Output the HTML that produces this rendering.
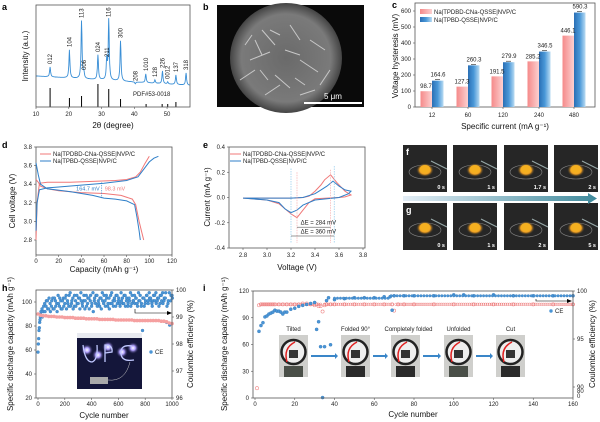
<!DOCTYPE html>
<html><head><meta charset="utf-8">
<style>
html,body{margin:0;padding:0;background:#fff;}
svg{display:block;font-family:"Liberation Sans",Arial,sans-serif;}
.t{font-size:6px;fill:#222;}
.ax{font-size:8px;fill:#111;}
.pl{font-size:9px;font-weight:bold;fill:#000;}
</style></head>
<body>
<svg id="fig" width="600" height="422" viewBox="0 0 600 422" xmlns="http://www.w3.org/2000/svg">
<defs>
<linearGradient id="gRed" x1="0" x2="1"><stop offset="0" stop-color="#f58a8a"/><stop offset="1" stop-color="#fcd0d0"/></linearGradient>
<linearGradient id="gBlue" x1="0" x2="1"><stop offset="0" stop-color="#2a6fb5"/><stop offset="0.5" stop-color="#4a98d8"/><stop offset="1" stop-color="#b9dbf3"/></linearGradient>
<linearGradient id="gArrow" x1="0" x2="1"><stop offset="0" stop-color="#e4eef6"/><stop offset="1" stop-color="#3f8a9c"/></linearGradient>
<radialGradient id="gSem" cx="0.5" cy="0.5" r="0.5"><stop offset="0" stop-color="#6a6a6a"/><stop offset="0.8" stop-color="#7a7a7a"/><stop offset="1" stop-color="#444"/></radialGradient>
<radialGradient id="gFlame" cx="0.5" cy="0.5" r="0.5"><stop offset="0" stop-color="#ffd04a"/><stop offset="0.6" stop-color="#f0a020"/><stop offset="1" stop-color="#2a2a2a" stop-opacity="0"/></radialGradient>
<radialGradient id="gLed" cx="0.5" cy="0.5" r="0.5"><stop offset="0" stop-color="#ffffff"/><stop offset="0.4" stop-color="#b0a0ff"/><stop offset="1" stop-color="#1a1840" stop-opacity="0"/></radialGradient>
</defs>
<g id="root"></g>
</svg>
<script>
// ===== panel a data (XRD) =====
const xrdPeakPos = [14.3,20.2,23.9,24.6,28.9,31.6,32.2,35.8,40.3,43.5,46.3,48.6,50.2,52.7,55.8];
const xrdPeakTop = [67,50,21,73,55,60,20,41,84,74,80,71,82,75,73];
const xrdPeakLabels = ["012","104","113","006","024","211","116","300","208","1010","128","226","0012","137","318"];
const refStickPos = [14.3,20.2,23.9,28.9,32.2,35.8,43.6,48.5,50.2,52.7];
const refStickTop = [88,98,96,84,89,99,104,104,104,102];
const xrdTicks = [10,20,30,40,50];
// ===== panel c data =====
const hystCats = ["12","60","120","240","480"];
const hystRed = [98.7,127.3,191.5,285.2,446.1];
const hystBlue = [164.6,260.3,279.9,346.5,590.3];
const hystTicks = [0,100,200,300,400,500,600];
// ===== panel d data =====
const dRedChgCap = [0,1,3,10,30,50,70,80,88,92,96,100];
const dRedChgV = [2.8,3.2,3.41,3.42,3.42,3.43,3.44,3.45,3.48,3.53,3.62,3.7];
const dRedDisCap = [0,2,4,10,20,40,60,75,85,88,91,93,95];
const dRedDisV = [3.45,3.42,3.38,3.35,3.33,3.31,3.3,3.28,3.24,3.18,3.0,2.9,2.8];
const dBlueChgCap = [0,1,3,10,20,40,60,80,90,95,100,104,108];
const dBlueChgV = [2.9,3.2,3.34,3.36,3.37,3.39,3.41,3.44,3.48,3.56,3.64,3.68,3.7];
const dBlueDisCap = [0,2,4,10,30,50,60,70,80,87,89,91,92];
const dBlueDisV = [3.63,3.5,3.4,3.35,3.32,3.28,3.25,3.24,3.22,3.18,3.05,2.9,2.8];
const dTicksX = [0,20,40,60,80,100,120];
const dTicksY = [2.8,3.0,3.2,3.4,3.6,3.8];
// ===== panel e data =====
const eRedV = [2.8,3.0,3.2,3.3,3.35,3.4,3.45,3.48,3.53,3.58,3.65,3.7,3.65,3.6,3.5,3.4,3.35,3.3,3.25,3.2,3.1,3.0,2.8];
const eRedI = [-0.005,-0.005,-0.005,0.0,0.01,0.05,0.1,0.14,0.18,0.12,0.05,0.02,0.005,0.0,-0.005,-0.01,-0.04,-0.1,-0.16,-0.13,-0.05,-0.02,-0.005];
const eBlueV = [2.8,3.0,3.2,3.3,3.4,3.45,3.5,3.55,3.6,3.65,3.7,3.68,3.6,3.5,3.4,3.3,3.25,3.2,3.15,3.1,3.0,2.8];
const eBlueI = [-0.005,-0.005,-0.005,0.0,0.03,0.06,0.09,0.13,0.09,0.06,0.05,0.03,0.0,-0.01,-0.02,-0.06,-0.1,-0.12,-0.09,-0.04,-0.02,-0.005];
const eTicksX = [2.8,3.0,3.2,3.4,3.6,3.8];
const eTicksY = [-0.4,-0.2,0.0,0.2,0.4];
// ===== panel h data =====
const hCapCycles = [0,20,40,60,80,100,120,140,160,180,200,220,240,260,280,300,320,340,360,380,400,420,440,460,480,500,520,540,560,580,600,620,640,660,680,700,720,740,760,780,800,820,840,860,880,900,920,940,960,980,1000];
const hCap = [90,89,88.5,88.5,88,88,88,87.5,87.5,87.5,87,87,87,87,86.5,86.5,86.5,86.5,86,86,86,86,86,85.5,85.5,85.5,85.5,85.5,85.5,85,85,85,85,85,85,85,84.5,84.5,84.5,84.5,84.5,84.5,84.5,84.5,84.5,84.5,84,84,83.5,82.5,82];
const hCeCycles = [0,5,10,15,20,30,40,50,60,70,80,90,100,110,120,130,140,150,160,170,180,190,200,210,220,230,240,250,260,270,280,290,300,310,320,330,340,350,360,370,380,390,400,410,420,430,440,450,460,470,480,490,500,510,520,530,540,550,560,570,580,590,600,610,620,630,640,650,660,670,680,690,700,710,720,730,740,750,760,770,780,790,800,810,820,830,840,850,860,870,880,890,900,910,920,930,940,950,960,970,980,990,1000];
const hCe = [97.7,98.2,98.6,98.9,99.1,99.3,99.2,99.5,99.4,99.6,99.3,99.5,99.4,99.7,99.3,99.6,99.5,99.8,99.4,99.6,99.3,99.7,99.5,99.8,99.6,99.4,99.9,99.5,99.7,99.4,99.6,99.8,99.5,99.7,99.9,99.5,99.6,99.3,99.8,99.5,99.7,99.6,99.4,99.9,99.6,99.5,99.8,99.6,99.4,99.7,99.9,99.5,99.6,99.8,99.4,99.7,99.5,99.9,99.6,99.7,99.4,99.8,99.6,99.5,99.9,99.7,99.5,99.8,99.6,99.4,99.7,99.9,99.5,99.6,99.8,99.7,99.5,99.9,99.6,99.4,98.5,99.7,99.5,99.8,99.6,99.9,99.7,99.5,99.6,99.8,99.9,99.6,99.7,99.5,99.8,99.9,99.6,99.7,98.8,99.5,99.9,99.6,99.8];
const hCe2 = [98.0,98.5,98.8,99.0,99.2,99.0,99.4,99.2,99.6,99.3,99.7,99.2,99.6,99.3,99.7,99.4,99.2,99.5,99.7,99.3,99.6,99.4,99.7,99.3,99.5,99.8,99.4,99.6,99.3,99.8,99.4,99.5,99.7,99.3,99.6,99.4,99.8,99.6,99.4,99.7,99.3,99.8,99.5,99.2,99.7,99.8,99.4,99.5,99.7,99.3,99.6,99.8,99.4,99.7,99.5,99.3,99.8,99.5,99.4,99.6,99.8,99.5,99.7,99.4,99.6,99.5,99.8,99.4,99.7,99.5,99.6,99.4,99.8,99.6,99.5,99.7,99.4,99.6,99.8,99.5,99.7,99.4,99.6,99.8,99.5,99.7,99.6,99.4,99.8,99.6,99.5,99.7,99.4,99.8,99.6,99.5,99.7,99.9,99.4,99.6,98.7,99.8,99.7];
const hTicksX = [0,200,400,600,800,1000];
const hTicksY = [20,40,60,80,100];
const hTicksY2 = [96,97,98,99,100];
// ===== panel i data =====
const iCapCycles = [1,2,3,4,5,6,7,8,9,10,12,14,16,18,20,22,24,26,28,30,31,32,33,34,35,36,38,40,45,50,55,60,65,69,70,72,75,80,90,100,110,120,130,140,150,160];
const iCap = [11,104,105,105,105,105,105,105,105,105,105,105,105,105,105,105,106,106,105,104,105,103,103,97,104,105,105,105,105,105,105,105,105,105,98,105,105,105,105,105,105,105,105,105,105,105];
const iCeCycles = [2,3,4,5,6,7,8,9,10,11,12,13,14,15,16,18,20,22,24,26,28,30,31,32,33,34,35,36,37,38,40,45,50,55,60,65,68,69,70,75,80,90,100,105,110,120,130,140,150,160];
const iCe = [95.8,96.4,96.7,97.3,97.4,97.6,97.7,97.8,98.0,97.9,97.9,97.8,97.6,97.8,97.8,98.1,98.2,98.4,98.5,98.6,98.7,98.8,96.0,96.8,94.2,88.9,94.2,99.0,99.3,94.4,99.1,99.2,99.3,99.3,99.3,99.4,99.4,98.0,99.5,99.5,99.5,99.5,99.6,99.6,99.5,99.6,99.5,99.5,99.5,99.5];
const iTicksX = [0,20,40,60,80,100,120,140,160];
const iTicksY = [0,30,60,90,120];
const iPhotoLabels = ["Tilted","Folded 90°","Completely folded","Unfolded","Cut"];
const fgTimesF = ["0 s","1 s","1.7 s","2 s"];
const fgTimesG = ["0 s","1 s","2 s","5 s"];

const NS="http://www.w3.org/2000/svg";
const root=document.getElementById('root');
function mk(tag,attrs,parent){const e=document.createElementNS(NS,tag);for(const k in attrs)e.setAttribute(k,attrs[k]);(parent||root).appendChild(e);return e;}
function txt(s,x,y,cls,extra,parent){const e=mk('text',Object.assign({x:x,y:y,class:cls},extra||{}),parent);e.textContent=s;return e;}
function grp(){return mk('g',{});}
function lin(d0,d1,r0,r1){return v=>r0+(v-d0)*(r1-r0)/(d1-d0);}

// ---------- panel labels ----------
[["a",2,10],["b",203,10],["c",392,8],["d",2,148],["e",203,148],["h",2,291],["i",203,291]].forEach(p=>{
  const e=txt(p[0],p[1],p[2],'pl');
  
  
});

// ---------- panel a ----------
{
const g=grp();


const X=lin(10,57,36,190);
const base=x=>76+(x-10)*0.2;
let pts=[];
for(let x=10;x<=57;x+=0.1){
  let y=base(x);
  xrdPeakPos.forEach((p,i)=>{const h=base(p)-xrdPeakTop[i];const w=0.18;y-=h/(1+((x-p)/w)**2);});
  pts.push(X(x).toFixed(1)+','+y.toFixed(1));
}
const pl=mk('polyline',{points:pts.join(' '),fill:'none',stroke:'#3a8fd6','stroke-width':0.9},g);


xrdPeakPos.forEach((p,i)=>{
  const x=X(p)+2,y=xrdPeakTop[i]-3;
  const t=txt(xrdPeakLabels[i],x,y,'t',{transform:`rotate(-90 ${x} ${y})`,'font-size':'5.5'},g);
  
  
});
refStickPos.forEach((p,i)=>{
  const l=mk('line',{x1:X(p),x2:X(p),y1:107,y2:refStickTop[i],stroke:'#000','stroke-width':1},g);
  
  
});
txt('PDF#53-0018',133,96,'t',{},g);
mk('rect',{x:36,y:5,width:154,height:102,fill:'none',stroke:'#555','stroke-width':0.8},g);
xrdTicks.forEach(v=>{mk('line',{x1:X(v),x2:X(v),y1:107,y2:109,stroke:'#555','stroke-width':0.6},g);
  const t=txt(v,X(v),116,'t',{'text-anchor':'middle'},g);
  
  });
const xt=txt('2θ (degree)',113,128,'ax',{'text-anchor':'middle'},g);


const yt=txt('Intensity (a.u.)',28,56,'ax',{'text-anchor':'middle',transform:'rotate(-90 28 56)'},g);


}

// ---------- panel b (SEM) ----------
{
const g=grp();


mk('rect',{x:217,y:5,width:147,height:102,fill:'#0a0a0a'},g);
mk('ellipse',{cx:286,cy:58,rx:56,ry:55,fill:'url(#gSem)'},g);
const flakes=[[262,30,275,45],[290,25,300,40],[250,60,270,52],[300,60,318,72],[275,75,290,88],[310,40,325,50],[240,80,255,70],[285,50,300,55],[265,95,280,85],[320,85,330,70],[255,40,262,55],[300,95,315,90],[245,45,252,35],[280,35,270,30],[295,78,305,85],[260,70,268,80]];
flakes.forEach(f=>mk('line',{x1:f[0],y1:f[1],x2:f[2],y2:f[3],stroke:'#c8c8c8','stroke-width':1},g));
const sb=mk('rect',{x:304,y:102,width:58,height:2,fill:'#fff'},g);


const sl=txt('5 μm',324,99,'t',{style:'fill:#fff;font-size:8px'},g);


}

// ---------- panel c ----------
{
const g=grp();


const Y=lin(0,600,107,11);
const cx=[432,468,503,539,574];
mk('rect',{x:415,y:3,width:180,height:104,fill:'none',stroke:'#555','stroke-width':0.8},g);
hystTicks.forEach(v=>{mk('line',{x1:413,x2:415,y1:Y(v),y2:Y(v),stroke:'#555','stroke-width':0.6},g);
  const t=txt(v,411,Y(v)+2,'t',{'text-anchor':'end'},g);
  
  });
hystCats.forEach((c,i)=>{
  const r=mk('rect',{x:cx[i]-11.5,y:Y(hystRed[i]),width:11.5,height:107-Y(hystRed[i]),fill:'url(#gRed)'},g);
  
  
  const b=mk('rect',{x:cx[i],y:Y(hystBlue[i]),width:11.5,height:107-Y(hystBlue[i]),fill:'url(#gBlue)'},g);
  
  
  mk('line',{x1:cx[i]+3,x2:cx[i]+8,y1:Y(hystBlue[i])-1,y2:Y(hystBlue[i])-1,stroke:'#222','stroke-width':0.6},g);
  txt(hystRed[i],cx[i]-6,Y(hystRed[i])-3,'t',{'text-anchor':'middle','font-size':'4.5'},g);
  txt(hystBlue[i],cx[i]+6,Y(hystBlue[i])-4,'t',{'text-anchor':'middle','font-size':'4.5'},g);
  mk('line',{x1:cx[i],x2:cx[i],y1:107,y2:109,stroke:'#555','stroke-width':0.6},g);
  const t=txt(c,cx[i],117,'t',{'text-anchor':'middle'},g);
  
  
});
mk('rect',{x:420,y:9,width:12,height:5,fill:'url(#gRed)'},g);
mk('rect',{x:420,y:17,width:12,height:5,fill:'url(#gBlue)'},g);
const l1=txt('Na|TPDBD-CNa-QSSE|NVP/C',434,14,'t',{'font-size':'5.5'},g);


const l2=txt('Na|TPBD-QSSE|NVP/C',434,22,'t',{'font-size':'5.5'},g);


const xt=txt('Specific current  (mA g⁻¹)',505,129,'ax',{'text-anchor':'middle'},g);


const yt=txt('Voltage hysteresis (mV)',398,56,'ax',{'text-anchor':'middle',transform:'rotate(-90 398 56)'},g);


}

// ---------- panel d ----------
{
const g=grp();


const X=lin(0,120,36,172), Y=lin(2.8,3.8,240,147);
mk('rect',{x:36,y:147,width:136,height:108,fill:'none',stroke:'#555','stroke-width':0.8},g);
const curve=(cs,vs,col,name)=>{const p=mk('polyline',{points:cs.map((c,i)=>X(c).toFixed(1)+','+Y(vs[i]).toFixed(1)).join(' '),fill:'none',stroke:col,'stroke-width':1},g);
  
  };
curve(dRedChgCap,dRedChgV,'#f07878','red-charge-curve');
curve(dRedDisCap,dRedDisV,'#f07878','red-discharge-curve');
curve(dBlueChgCap,dBlueChgV,'#2f7fc8','blue-charge-curve');
curve(dBlueDisCap,dBlueDisV,'#2f7fc8','blue-discharge-curve');
mk('line',{x1:X(58),x2:X(58),y1:Y(3.42),y2:Y(3.25),stroke:'#2f7fc8','stroke-width':0.6,'stroke-dasharray':'1.5,1'},g);
txt('164.7 mV',X(58)-2,Y(3.33),'t',{'text-anchor':'end',style:'fill:#2f7fc8;font-size:5.5px'},g);
txt('98.3 mV',X(58)+3,Y(3.33),'t',{style:'fill:#f07878;font-size:5.5px'},g);
dTicksX.forEach(v=>{mk('line',{x1:X(v),x2:X(v),y1:255,y2:257,stroke:'#555','stroke-width':0.6},g);
  const t=txt(v,X(v),263,'t',{'text-anchor':'middle'},g);
  
  });
dTicksY.forEach(v=>{mk('line',{x1:34,x2:36,y1:Y(v),y2:Y(v),stroke:'#555','stroke-width':0.6},g);
  const t=txt(v.toFixed(1),32,Y(v)+2,'t',{'text-anchor':'end'},g);
  
  });
mk('line',{x1:40,x2:51,y1:154,y2:154,stroke:'#f07878','stroke-width':1},g);
mk('line',{x1:40,x2:51,y1:161,y2:161,stroke:'#2f7fc8','stroke-width':1},g);
const l1=txt('Na|TPDBD-CNa-QSSE|NVP/C',53,156,'t',{'font-size':'5.5'},g);


const l2=txt('Na|TPBD-QSSE|NVP/C',53,163,'t',{'font-size':'5.5'},g);


const xt=txt('Capacity (mAh g⁻¹)',104,272,'ax',{'text-anchor':'middle'},g);


const yt=txt('Cell voltage (V)',15,201,'ax',{'text-anchor':'middle',transform:'rotate(-90 15 201)'},g);


}

// ---------- panel e ----------
{
const g=grp();


const X=lin(2.8,3.8,243,363), Y=lin(-0.4,0.4,248,147);
mk('rect',{x:229,y:147,width:136,height:101,fill:'none',stroke:'#555','stroke-width':0.8},g);
const curve=(vs,is,col,name)=>{const p=mk('polyline',{points:vs.map((v,i)=>X(v).toFixed(1)+','+Y(is[i]).toFixed(1)).join(' '),fill:'none',stroke:col,'stroke-width':1},g);
  
  };
curve(eRedV,eRedI,'#f07878','red-cv-curve');
curve(eBlueV,eBlueI,'#2f7fc8','blue-cv-curve');
[[3.25,'#f5a0a0',0.2],[3.53,'#f5a0a0',0.22],[3.2,'#7fc0e8',0.23],[3.56,'#7fc0e8',0.25]].forEach(d=>mk('line',{x1:X(d[0]),x2:X(d[0]),y1:Y(d[2]),y2:Y(-0.36),stroke:d[1],'stroke-width':0.6,'stroke-dasharray':'1.5,1'},g));
mk('line',{x1:X(3.25),x2:X(3.53),y1:Y(-0.235),y2:Y(-0.235),stroke:'#333','stroke-width':0.5},g);
mk('line',{x1:X(3.2),x2:X(3.56),y1:Y(-0.305),y2:Y(-0.305),stroke:'#333','stroke-width':0.5},g);
txt('ΔE = 284 mV',X(3.28),Y(-0.215),'t',{'font-size':'5'},g);
txt('ΔE = 360 mV',X(3.28),Y(-0.285),'t',{'font-size':'5'},g);
eTicksX.forEach(v=>{mk('line',{x1:X(v),x2:X(v),y1:248,y2:250,stroke:'#555','stroke-width':0.6},g);
  const t=txt(v.toFixed(1),X(v),257,'t',{'text-anchor':'middle'},g);
  
  });
eTicksY.forEach(v=>{mk('line',{x1:227,x2:229,y1:Y(v),y2:Y(v),stroke:'#555','stroke-width':0.6},g);
  const t=txt(v.toFixed(1),225,Y(v)+2,'t',{'text-anchor':'end'},g);
  
  });
mk('line',{x1:230,x2:241,y1:154,y2:154,stroke:'#f07878','stroke-width':1},g);
mk('line',{x1:230,x2:241,y1:161,y2:161,stroke:'#2f7fc8','stroke-width':1},g);
const l1=txt('Na|TPDBD-CNa-QSSE|NVP/C',243,156,'t',{'font-size':'5.5'},g);


const l2=txt('Na|TPBD-QSSE|NVP/C',243,163,'t',{'font-size':'5.5'},g);


const xt=txt('Voltage (V)',297,270,'ax',{'text-anchor':'middle'},g);


const yt=txt('Current (mA g⁻¹)',210,197,'ax',{'text-anchor':'middle',transform:'rotate(-90 210 197)'},g);


}

// ---------- panels f,g (photos) ----------
{
const g=grp();


const xs=[403,453,504,554], w=44;
[[145,fgTimesF,'f'],[203,fgTimesG,'g']].forEach(row=>{
  xs.forEach((x,i)=>{
    const y=row[0];
    const r=mk('rect',{x:x,y:y,width:w,height:47,fill:'#262626'},g);
    
    
    mk('ellipse',{cx:x+22,cy:y+27,rx:16,ry:7,fill:'none',stroke:'#888','stroke-width':0.6},g);
    mk('ellipse',{cx:x+22,cy:y+25,rx:9,ry:7,fill:'url(#gFlame)'},g);
    mk('ellipse',{cx:x+22,cy:y+24,rx:5,ry:4,fill:'#f5b020'},g);
    mk('line',{x1:x+28,y1:y+16,x2:x+44,y2:y+24,stroke:'#9aa','stroke-width':1},g);
    txt(row[1][i],x+w-2,y+44,'t',{'text-anchor':'end',style:'fill:#fff;font-size:5.5px;font-weight:bold'},g);
  });
  const lab=txt(row[2],406,row[0]+10,'pl',{style:'fill:#fff'},g);
  
  
});
const ar=mk('polygon',{points:'403,196 588,196 588,193 597,198.5 588,204 588,201 403,201',fill:'url(#gArrow)'},g);


}

// ---------- panel h ----------
{
const g=grp();


const X=lin(0,1000,38,172), Y=lin(20,110,398,290), Y2=lin(96,100,398,290);
hCeCycles.forEach((c,i)=>{
  const p=mk('circle',{cx:X(c),cy:Y2(hCe[i]),r:1.5,fill:'#4a95d6',stroke:'#2a6fb0','stroke-width':0.3},g);
  
  
  const q=mk('circle',{cx:X(c+2.5),cy:Y2(hCe2[i]),r:1.5,fill:'#4a95d6',stroke:'#2a6fb0','stroke-width':0.3},g);
  
  
});
hCapCycles.forEach((c,i)=>{
  const p=mk('circle',{cx:X(c),cy:Y(hCap[i]),r:1.8,fill:'#f5a0a0'},g);
  
  
});
const ph=mk('rect',{x:77,y:333,width:65,height:56,fill:'#14163a'},g);


mk('rect',{x:77,y:333,width:65,height:5,fill:'#e8eaf0'},g);
[[87,350],[98,355],[108,347],[122,352],[133,348]].forEach(p=>mk('circle',{cx:p[0],cy:p[1],r:6,fill:'url(#gLed)'},g));
mk('path',{d:'M83 345 Q85 362 92 362 Q98 360 97 345 M105 362 L105 345 Q113 345 112 352 L105 353 M132 346 Q120 344 121 354 Q122 362 134 360',fill:'none',stroke:'#c0c8ff','stroke-width':1.3},g);
mk('rect',{x:90,y:377,width:18,height:7,fill:'#aaa'},g);
mk('path',{d:'M108 380 Q125 382 130 362',fill:'none',stroke:'#ccc','stroke-width':0.5},g);
mk('polyline',{points:'135,309 135,313 169,313',fill:'none',stroke:'#000','stroke-width':0.6},g);
mk('polygon',{points:'172,313 167,311 167,315',fill:'#000'},g);
mk('circle',{cx:151,cy:352,r:1.7,fill:'#4a95d6'},g);
const lg=txt('CE',155,354,'t',{'font-size':'5.5'},g);


mk('rect',{x:36,y:290,width:136,height:108,fill:'none',stroke:'#555','stroke-width':0.8},g);
hTicksX.forEach(v=>{mk('line',{x1:X(v),x2:X(v),y1:398,y2:400,stroke:'#555','stroke-width':0.6},g);
  const t=txt(v,X(v),406,'t',{'text-anchor':'middle'},g);
  
  });
hTicksY.forEach(v=>{mk('line',{x1:34,x2:36,y1:Y(v),y2:Y(v),stroke:'#555','stroke-width':0.6},g);
  const t=txt(v,32,Y(v)+2,'t',{'text-anchor':'end'},g);
  
  });
hTicksY2.forEach(v=>{mk('line',{x1:172,x2:174,y1:Y2(v),y2:Y2(v),stroke:'#555','stroke-width':0.6},g);
  const t=txt(v,176,Y2(v)+2,'t',{},g);
  
  });
const xt=txt('Cycle number',104,418,'ax',{'text-anchor':'middle'},g);


const yt=txt('Specific discharge capacity (mAh g⁻¹)',13,344,'ax',{'text-anchor':'middle','font-size':'7',transform:'rotate(-90 13 344)'},g);


const y2=txt('Coulombic efficiency (%)',193,344,'ax',{'text-anchor':'middle','font-size':'7',transform:'rotate(-90 193 344)'},g);


}

// ---------- panel i ----------
{
const g=grp();


const X=lin(0,160,255,573), Y=lin(0,120,398,291), Y2=lin(90,100,387,291);
iCapCycles.forEach((c,i)=>{
  const p=mk('circle',{cx:X(c),cy:Y(iCap[i]),r:1.6,fill:'none',stroke:'#ef8080','stroke-width':0.6},g);
  
  
});
for(let c=3;c<=160;c++){if(c===34||c===70)continue;
  const p=mk('circle',{cx:X(c),cy:Y(105),r:1.4,fill:'none',stroke:'#ef8080','stroke-width':0.5},g);
  
  }
iCeCycles.forEach((c,i)=>{
  const p=mk('circle',{cx:X(c),cy:Y2(iCe[i]),r:1.6,fill:'#4a95d6',stroke:'#2a6fb0','stroke-width':0.3},g);
  
  
});
for(let c=40;c<=160;c+=1.5){
  const v=c<68?99.25:99.5;
  const p=mk('circle',{cx:X(c),cy:Y2(v),r:1.3,fill:'#4a95d6',stroke:'#2a6fb0','stroke-width':0.3},g);
  
  }
const px=[279,341,391,444,496];
iPhotoLabels.forEach((lab,i)=>{
  const x=px[i];
  const r=mk('rect',{x:x,y:335,width:29,height:42,fill:'#cfcfcc'},g);
  
  
  mk('circle',{cx:x+14.5,cy:352,r:12,fill:'#eee',stroke:'#222','stroke-width':2.5},g);
  mk('path',{d:`M${x+8} 362 Q${x+4} 348 ${x+16} 342`,fill:'none',stroke:'#e02020','stroke-width':1.5},g);
  mk('rect',{x:x+10,y:350,width:9,height:8,fill:'#333'},g);
  mk('rect',{x:x+5,y:366,width:19,height:11,fill:i===0||i===3?'#4a4f48':'#2a2a2a'},g);
  const t=txt(lab,x+14.5+(i===2?3:0),331,'t',{'text-anchor':'middle','font-size':'5.5'},g);
  
  
  if(i<4){const ax=x+32,bx=px[i+1]-3;
    mk('polygon',{points:`${ax},355 ${bx-3},355 ${bx-3},353 ${bx},356 ${bx-3},359 ${bx-3},357 ${ax},357`,fill:'#3a86c8'},g);}
});
mk('polyline',{points:'536,299 536,301 568,301',fill:'none',stroke:'#000','stroke-width':0.6},g);
mk('polygon',{points:'572,301 567,299 567,303',fill:'#000'},g);
mk('circle',{cx:551,cy:311,r:1.7,fill:'#4a95d6'},g);
const lg=txt('CE',555,313,'t',{'font-size':'5.5'},g);


mk('rect',{x:253,y:291,width:320,height:107,fill:'none',stroke:'#555','stroke-width':0.8},g);
iTicksX.forEach(v=>{mk('line',{x1:X(v),x2:X(v),y1:398,y2:400,stroke:'#555','stroke-width':0.6},g);
  const t=txt(v,X(v),406,'t',{'text-anchor':'middle'},g);
  
  });
iTicksY.forEach(v=>{mk('line',{x1:251,x2:253,y1:Y(v),y2:Y(v),stroke:'#555','stroke-width':0.6},g);
  const t=txt(v,249,Y(v)+2,'t',{'text-anchor':'end'},g);
  
  });
[100,95,90].forEach(v=>{mk('line',{x1:573,x2:575,y1:Y2(v),y2:Y2(v),stroke:'#555','stroke-width':0.6},g);
  const t=txt(v,577,Y2(v)+2,'t',{},g);
  
  });
txt('80',577,393,'t',{'font-size':'4.5'},g);
txt('0',577,398,'t',{'font-size':'4.5'},g);
const xt=txt('Cycle number',413,417,'ax',{'text-anchor':'middle'},g);


const yt=txt('Specific discharge capacity (mAh g⁻¹)',227,344,'ax',{'text-anchor':'middle','font-size':'7',transform:'rotate(-90 227 344)'},g);


const y2=txt('Coulombic efficiency (%)',595,344,'ax',{'text-anchor':'middle','font-size':'7',transform:'rotate(-90 595 344)'},g);


}
</script>
</body></html>
